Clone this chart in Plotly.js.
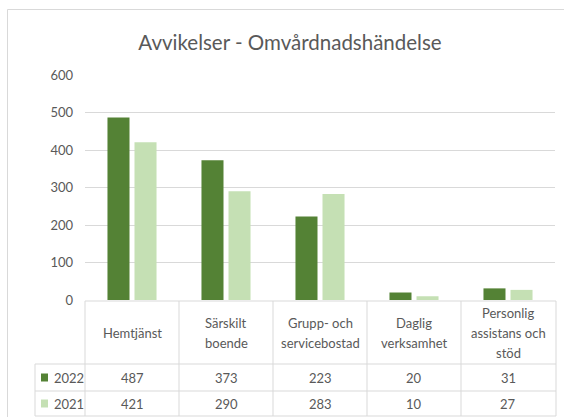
<!DOCTYPE html>
<html>
<head>
<meta charset="utf-8">
<script src="https://cdn.plot.ly/plotly-3.0.1.min.js"></script>
<style>html,body{margin:0;padding:0;background:#fff;}#chart{width:564px;height:417px;}</style>
</head>
<body>
<div id="chart"></div>
<script>
const categories = ["Hemtjänst", "Särskilt boende", "Grupp- och servicebostad", "Daglig verksamhet", "Personlig assistans och stöd"];
const headerLabels = ["Hemtjänst", "Särskilt<br>boende", "Grupp- och<br>servicebostad", "Daglig<br>verksamhet", "Personlig<br>assistans och<br>stöd"];
const seriesNames = ["2022", "2021"];
const values2022 = [487, 373, 223, 20, 31];
const values2021 = [421, 290, 283, 10, 27];
const yTicks = [0, 100, 200, 300, 400, 500, 600];

const colors = ["#548235", "#C5E0B4"];
const textColor = "#595959";
const lineColor = "#D9D9D9";
const FONT = "Lato, 'Open Sans', sans-serif";
const FS = 13;

// plot area in pixels
const PL = 85, PR = 555, PT = 75, PB = 300;
const W = 564, H = 417;
const px = v => (v - PL) / (PR - PL);
const py = v => (PB - v) / (PB - PT);

const shapes = [];
const annotations = [];
function line(x0, y0, x1, y1, color) {
  shapes.push({type: "line", xref: "paper", yref: "paper", x0: px(x0), y0: py(y0), x1: px(x1), y1: py(y1),
    line: {color: color || lineColor, width: 1}});
}
function label(x, y, text, anchor) {
  annotations.push({xref: "paper", yref: "paper", x: px(x), y: py(y), text: text,
    showarrow: false, xanchor: anchor || "center", yanchor: "middle", align: "center",
    font: {family: FONT, size: FS, color: textColor}});
}
// outer chart frame
shapes.push({type: "rect", xref: "paper", yref: "paper", x0: px(7.5), y0: py(9.5), x1: px(620), y1: py(460),
  line: {color: lineColor, width: 1}, fillcolor: "rgba(0,0,0,0)"});

// data table
const tTop = 301, tHead = 364, tMid = 391, tBot = 416, tLeft = 35;
const n = categories.length;
const colW = (PR - PL) / n;
line(PL, tTop, PR + 1, tTop);
line(tLeft, tHead, PR + 1, tHead);
line(tLeft, tMid, PR + 1, tMid);
line(tLeft, tBot, PR + 1, tBot);
line(tLeft, tHead, tLeft, tBot);
for (let i = 0; i <= n; i++) {
  const xx = PL + i * colW + (i === n ? 1 : 0);
  line(xx, tTop, xx, tBot);
}
const rowsVals = [values2022, values2021];
const rowCenters = [(tHead + tMid) / 2, (tMid + tBot) / 2];
const lineStep = 20;
for (let i = 0; i < n; i++) {
  const cx = PL + (i + 0.5) * colW;
  const parts = headerLabels[i].split("<br>");
  const mid = (tTop + tHead) / 2;
  parts.forEach((p, k) => label(cx, mid + (k - (parts.length - 1) / 2) * lineStep, p));
  for (let r = 0; r < 2; r++) label(cx, rowCenters[r], String(rowsVals[r][i]));
}
for (let r = 0; r < 2; r++) {
  const cy = rowCenters[r];
  shapes.push({type: "rect", xref: "paper", yref: "paper", x0: px(41), x1: px(48), y0: py(cy - 4), y1: py(cy + 4),
    line: {width: 0}, fillcolor: colors[r]});
  label(51.5, cy, seriesNames[r], "left");
}

const traces = [
  {type: "bar", name: seriesNames[0], x: categories, y: values2022, marker: {color: colors[0]}},
  {type: "bar", name: seriesNames[1], x: categories, y: values2021, marker: {color: colors[1]}}
];

const layout = {
  width: W, height: H,
  margin: {l: PL, r: W - PR, t: PT, b: H - PB, pad: 0},
  paper_bgcolor: "#ffffff", plot_bgcolor: "#ffffff",
  showlegend: false, hovermode: false,
  barmode: "group", bargap: 0.425, bargroupgap: 0.185,
  title: {text: "Avvikelser - Omvårdnadshändelse", xref: "container", yref: "container",
    x: 290 / W, y: 1 - 43 / H, xanchor: "center", yanchor: "middle",
    font: {family: FONT, size: 20.5, color: textColor}},
  xaxis: {showticklabels: false, showgrid: false, zeroline: false, showline: false, ticks: "",
    categoryorder: "array", categoryarray: categories},
  yaxis: {range: [0, 600], tickvals: yTicks, ticktext: yTicks.map(String), showgrid: true,
    gridcolor: lineColor, gridwidth: 1, zeroline: false, showline: false, ticks: "",
    ticklabelstandoff: 11,
    tickfont: {family: FONT, size: FS, color: textColor}},
  shapes: shapes,
  annotations: annotations
};

Plotly.newPlot("chart", traces, layout, {staticPlot: true, displayModeBar: false});
</script>
</body>
</html>
